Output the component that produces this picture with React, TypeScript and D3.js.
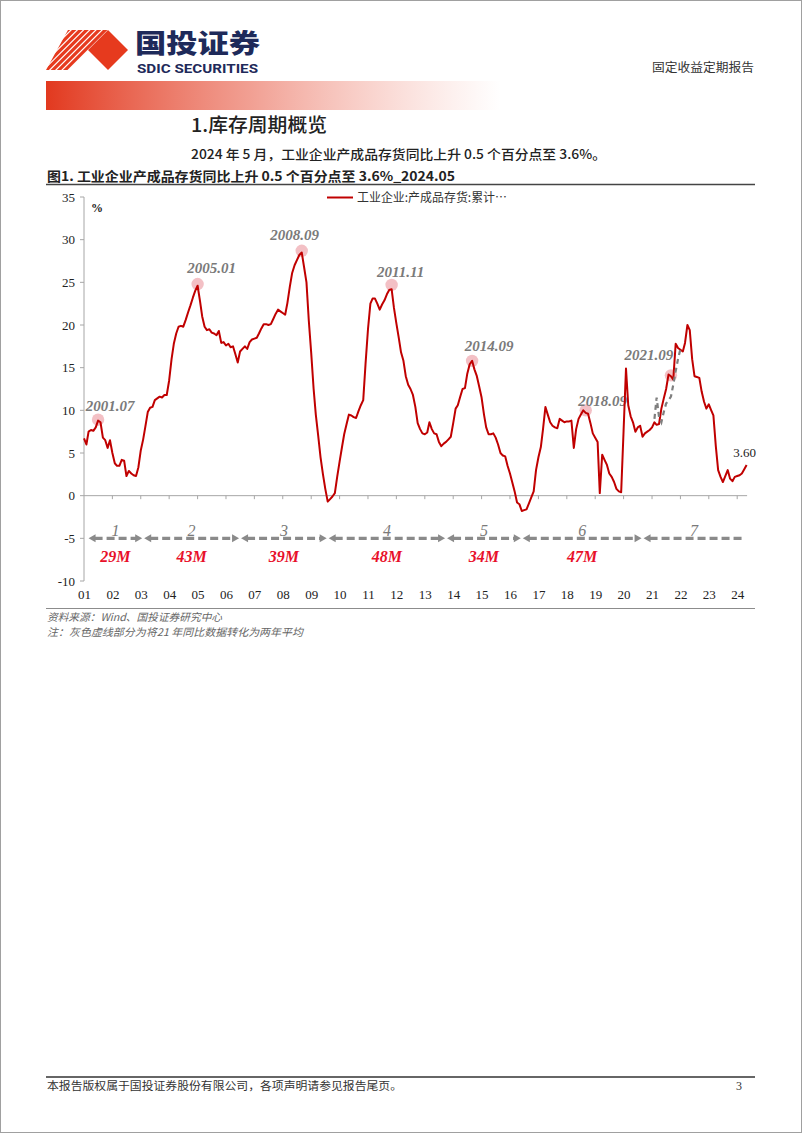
import React from "react";
import * as d3 from "d3";

// ---------------- DATA ----------------
const seriesStart = "2001.01";
// 工业企业:产成品存货:累计同比 (%), monthly from 2001.01 to 2024.05
const inventoryYoY: number[] = [
  // 2001
  6.7, 6.0, 7.5, 7.7, 7.6, 8.0, 8.8, 8.6, 6.8, 6.5, 5.6, 6.5,
  // 2002
  5.0, 3.8, 3.5, 3.5, 4.2, 4.1, 2.3, 2.9, 2.6, 2.4, 2.3, 3.3,
  // 2003
  5.3, 6.6, 8.1, 9.8, 10.3, 10.4, 11.2, 11.4, 11.6, 11.5, 11.8, 11.8,
  // 2004
  13.5, 16.0, 17.8, 19.0, 19.8, 19.9, 19.8, 20.6, 21.5, 22.3, 23.2, 24.0,
  // 2005
  24.6, 22.8, 21.0, 19.8, 19.4, 19.5, 19.1, 19.0, 18.8, 19.3, 17.9, 18.0,
  // 2006
  17.6, 17.8, 17.4, 17.5, 16.6, 15.6, 16.9, 17.2, 17.5, 17.2, 18.0, 18.3,
  // 2007
  18.4, 18.5, 19.0, 19.6, 20.1, 20.1, 20.0, 20.1, 20.7, 21.3, 21.8, 21.6,
  // 2008
  21.4, 21.2, 22.6, 24.5, 26.1, 27.0, 27.6, 28.2, 28.5, 26.8, 25.0, 20.5,
  // 2009
  16.7, 12.5, 9.5, 7.0, 4.5, 2.5, 0.8, -0.7, -0.4, -0.1, 0.3, 2.2,
  // 2010
  4.0, 5.7, 7.2, 8.4, 9.5, 9.4, 9.2, 9.1, 9.9, 10.6, 11.2, 15.5,
  // 2011
  19.5, 22.5, 23.1, 23.1, 22.5, 21.8, 22.4, 22.9, 23.6, 24.1, 24.2, 22.0,
  // 2012
  20.2, 18.5, 16.8, 15.8, 14.0, 13.0, 12.5, 11.8, 10.4, 8.5, 7.8, 7.3,
  // 2013
  7.2, 7.4, 8.6, 7.8, 7.3, 7.2, 6.3, 5.8, 6.1, 6.3, 6.6, 6.9,
  // 2014
  8.5, 10.2, 10.6, 11.6, 12.5, 12.6, 14.3, 15.4, 15.8, 14.8, 14.0, 12.8,
  // 2015
  11.5, 9.5, 8.0, 7.2, 7.2, 7.3, 6.8, 6.0, 5.0, 4.7, 4.6, 3.5,
  // 2016
  2.6, 1.5, 0.5, -0.8, -1.0, -1.8, -1.7, -1.6, -0.9, -0.2, 0.5, 3.0,
  // 2017
  4.5, 5.7, 7.8, 10.4, 9.5, 8.6, 8.2, 8.0, 7.9, 9.0, 8.8, 8.6,
  // 2018
  8.7, 8.7, 8.8, 5.6, 7.8, 9.0, 9.5, 10.0, 9.7, 9.6, 8.5, 7.3,
  // 2019
  6.8, 6.3, 0.3, 4.8, 4.2, 3.6, 2.6, 2.2, 1.6, 0.8, 0.5, 0.4,
  // 2020
  7.6, 14.9, 10.6, 9.3, 8.6, 7.5, 8.0, 8.2, 6.9, 7.3, 7.5, 7.7,
  // 2021
  8.0, 8.6, 8.3, 8.4, 10.2, 11.4, 12.5, 14.2, 14.0, 13.6, 17.8, 17.3,
  // 2022
  17.1, 16.9, 17.9, 20.0, 19.4, 16.0, 14.0, 13.9, 13.8, 12.2, 11.0, 10.2,
  // 2023
  10.7, 10.0, 9.4, 5.8, 3.0, 2.2, 1.6, 2.3, 3.0, 2.0, 1.7, 2.2,
  // 2024
  2.3, 2.4, 2.6, 3.1, 3.6,
];

// grey dashed: 2021 YoY converted to two-year average
const twoYearAvgStart = "2021.02";
const twoYearAvg: number[] = [9.0, 11.5, 9.2, 8.6, 9.8, 10.8, 11.2, 11.6, 13.0, 14.6, 16.0, 17.2];

// peak annotations
const peakDates = ["2001.07", "2005.01", "2008.09", "2011.11", "2014.09", "2018.09", "2021.09"];
const peakValues = [8.9, 24.8, 28.7, 24.7, 15.8, 10.0, 14.1];

// inventory cycles drawn at -5
const cycleBounds = ["2001.03", "2003.02", "2006.07", "2009.08", "2013.10", "2016.06", "2020.09", "2024.04"];
const cycleNames = ["1", "2", "3", "4", "5", "6", "7"];
const cycleLengths = ["29M", "43M", "39M", "48M", "34M", "47M", ""];
const cycleLevel = -5;

const yTicks = [-10, -5, 0, 5, 10, 15, 20, 25, 30, 35];
const xTickLabels = ["01", "02", "03", "04", "05", "06", "07", "08", "09", "10", "11", "12",
  "13", "14", "15", "16", "17", "18", "19", "20", "21", "22", "23", "24"];
const latestLabel = "3.60";
const seriesName = "工业企业:产成品存货:累计…";
const unitLabel = "%";

// ---------------- STYLE ----------------
const SERIF = "'Liberation Serif','Times New Roman',serif";
const CJK = "'Noto Sans CJK SC','Noto Sans',sans-serif";
const RED_LINE = "#c00000";
const GREY = "#8a8a8a";
const LABEL_GREY = "#7a7a7a";
// label offsets relative to each peak circle (dx, baseline dy)
const peakLabelOffsets: [number, number][] = [
  [12, -9], [14, -11], [-7, -11], [9, -8], [17, -10], [17, -4], [-22, -15],
];

const ym = (s: string) => {
  const [yy, mm] = s.split(".").map(Number);
  return new Date(Date.UTC(yy, mm - 1, 1));
};
const addMonths = (d: Date, n: number) => new Date(Date.UTC(d.getUTCFullYear(), d.getUTCMonth() + n, 1));

export default function App() {
  const start = ym(seriesStart);
  const end = addMonths(start, inventoryYoY.length - 1);
  const x = d3.scaleUtc().domain([start, end]).range([84, 746.6]);
  const y = d3.scaleLinear().domain([-10, 35]).range([581, 197]);

  const mainPath = d3.line<number>()
    .x((_, i) => x(addMonths(start, i)))
    .y((v) => y(v))(inventoryYoY) as string;

  const avgStart = ym(twoYearAvgStart);
  const avgPath = d3.line<number>()
    .x((_, i) => x(addMonths(avgStart, i)))
    .y((v) => y(v))(twoYearAvg) as string;

  const y0 = y(0);
  const yearTicks = xTickLabels.map((lab, i) => ({ lab, xp: x(new Date(Date.UTC(2001 + i, 0, 1))) }));
  const xAxisEnd = x(end) + 0.5;

  const yc = y(cycleLevel);
  const cycles = cycleNames.map((name, k) => {
    const x1 = x(ym(cycleBounds[k])) + (k > 0 ? 1 : 0);
    const last = k === cycleNames.length - 1;
    const x2 = x(ym(cycleBounds[k + 1])) - (last ? 0 : 1);
    return { name, len: cycleLengths[k], x1, x2, last };
  });

  const lastX = x(end);
  const lastY = y(inventoryYoY[inventoryYoY.length - 1]);

  return (
    <svg width={802} height={1133} style={{ position: "absolute", left: 0, top: 0, background: "#fff" }}
      xmlns="http://www.w3.org/2000/svg">
      <defs>
        <linearGradient id="hdrGrad" x1="0" x2="1" y1="0" y2="0">
          <stop offset="0" stopColor="#e2391f" stopOpacity={1} />
          <stop offset="0.45" stopColor="#e8604b" stopOpacity={0.6} />
          <stop offset="1" stopColor="#f08a7a" stopOpacity={0} />
        </linearGradient>
        <clipPath id="stripeClip">
          <polygon points="46,70 68,30 108,30 88,50 108,70" />
        </clipPath>
      </defs>
      <rect x={0.5} y={0.5} width={801} height={1132} fill="#fff" stroke="#a0a0a0" strokeWidth={1} />

      {/* ---------- header ---------- */}
      <g clipPath="url(#stripeClip)">
        {d3.range(7).map((i) => {
          const c = 98 + i * 6.2;
          return <line key={i} x1={c - 80} y1={80} x2={c + 10} y2={-10} stroke="#e63a1e" strokeWidth={3.2} />;
        })}
      </g>
      <polygon points="88,50 108,30 128,50 108,70" fill="#e63a1e" />
      <text x={135} y={53} fontFamily={CJK} fontWeight={900} fontSize={26} fill="#1e2a5a" textLength={125}
        lengthAdjust="spacingAndGlyphs">国投证券</text>
      <text x={137} y={73} fontFamily="Roboto, 'Liberation Sans', sans-serif" fontWeight={700} fontSize={12}
        fill="#1e2a5a" textLength={121} lengthAdjust="spacingAndGlyphs">SDIC SECURITIES</text>
      <text x={754} y={72} textAnchor="end" fontFamily={CJK} fontSize={12} fill="#333" textLength={102}
        lengthAdjust="spacingAndGlyphs">固定收益定期报告</text>
      <rect x={46} y={81} width={455} height={29} fill="url(#hdrGrad)" />

      {/* ---------- titles ---------- */}
      <text x={191} y={132} fontFamily={CJK} fontWeight={500} fontSize={19} fill="#222" textLength={136}
        lengthAdjust="spacingAndGlyphs">1.库存周期概览</text>
      <text x={191} y={159} fontFamily={CJK} fontWeight={500} fontSize={13} fill="#222" textLength={415}
        lengthAdjust="spacingAndGlyphs">2024 年 5 月，工业企业产成品存货同比上升 0.5 个百分点至 3.6%。</text>
      <text x={47} y={181} fontFamily={CJK} fontWeight={600} fontSize={13} fill="#222" textLength={408}
        lengthAdjust="spacingAndGlyphs">图1. 工业企业产成品存货同比上升 0.5 个百分点至 3.6%_2024.05</text>
      <line x1={46} x2={755} y1={184.5} y2={184.5} stroke="#444" strokeWidth={1.5} />

      {/* ---------- chart ---------- */}
      {/* y axis */}
      <line x1={84} x2={84} y1={y(35)} y2={y(-10)} stroke="#a6a6a6" strokeWidth={1} />
      {yTicks.map((t) => (
        <g key={t}>
          <line x1={80} x2={84} y1={y(t)} y2={y(t)} stroke="#a6a6a6" strokeWidth={1} />
          <text x={75} y={y(t)} dy="0.35em" textAnchor="end" fontFamily={SERIF} fontSize={13} fill="#222">{t}</text>
        </g>
      ))}
      <text x={91} y={212} fontFamily={SERIF} fontWeight={700} fontSize={12} fill="#222">{unitLabel}</text>

      {/* x axis at zero */}
      <line x1={84} x2={xAxisEnd} y1={y0} y2={y0} stroke="#a6a6a6" strokeWidth={1} />
      {yearTicks.map((t, i) => (
        <g key={t.lab}>
          {i > 0 && <line x1={t.xp} x2={t.xp} y1={y0} y2={y0 + 3.5} stroke="#a6a6a6" strokeWidth={1} />}
          <text x={t.xp + 0.5} y={599} textAnchor="middle" fontFamily={SERIF} fontSize={13} fill="#222">{t.lab}</text>
        </g>
      ))}

      {/* peak markers & labels */}
      {peakDates.map((d, i) => {
        const cx = x(ym(d));
        const cy = y(peakValues[i]);
        return <circle key={d} cx={cx} cy={cy} r={6.2} fill="#f3c0c5" />;
      })}
      {peakDates.map((d, i) => {
        const cx = x(ym(d));
        const cy = y(peakValues[i]);
        const [dx, dy] = peakLabelOffsets[i];
        return (
          <text key={d} x={cx + dx} y={cy + dy} textAnchor="middle" fontFamily={SERIF} fontStyle="italic"
            fontWeight={700} fontSize={15} fill={LABEL_GREY}>{d}</text>
        );
      })}

      {/* main series */}
      <path d={mainPath} fill="none" stroke={RED_LINE} strokeWidth={2} strokeLinejoin="round" />
      {/* two-year average dashed */}
      <path d={avgPath} fill="none" stroke="#7f7f7f" strokeWidth={2.2} strokeDasharray="5,4" />

      {/* latest value */}
      <text x={lastX - 2} y={lastY - 8} textAnchor="middle" fontFamily={SERIF} fontSize={13} fill="#222">{latestLabel}</text>

      {/* cycles */}
      {cycles.map((c) => (
        <g key={c.name}>
          <line x1={c.x1 + 6} x2={c.last ? c.x2 : c.x2 - 6} y1={yc} y2={yc} stroke={GREY} strokeWidth={3.2}
            strokeDasharray="8,4" />
          <polygon points={`${c.x1},${yc} ${c.x1 + 7},${yc - 4} ${c.x1 + 7},${yc + 4}`} fill={GREY} />
          {!c.last && <polygon points={`${c.x2},${yc} ${c.x2 - 7},${yc - 4} ${c.x2 - 7},${yc + 4}`} fill={GREY} />}
          <text x={(c.x1 + c.x2) / 2} y={yc - 2} textAnchor="middle" fontFamily={SERIF} fontStyle="italic"
            fontSize={16} fill={LABEL_GREY}>{c.name}</text>
          {c.len && (
            <text x={(c.x1 + c.x2) / 2} y={yc + 24} textAnchor="middle" fontFamily={SERIF} fontStyle="italic"
              fontWeight={700} fontSize={16} fill="#e8102a">{c.len}</text>
          )}
        </g>
      ))}

      {/* legend */}
      <line x1={327} x2={353} y1={197.5} y2={197.5} stroke={RED_LINE} strokeWidth={2} />
      <text x={357} y={202} fontFamily={CJK} fontSize={12} fill="#333" textLength={150}
        lengthAdjust="spacingAndGlyphs">{seriesName}</text>

      {/* ---------- notes ---------- */}
      <line x1={46} x2={755} y1={608.5} y2={608.5} stroke="#8c8c8c" strokeWidth={1} />
      <text x={47} y={621} fontFamily={CJK} fontStyle="italic" fontSize={10.5} fill="#666" textLength={175}
        lengthAdjust="spacingAndGlyphs">资料来源：Wind、国投证券研究中心</text>
      <text x={47} y={636} fontFamily={CJK} fontStyle="italic" fontSize={10.5} fill="#666" textLength={256}
        lengthAdjust="spacingAndGlyphs">注：灰色虚线部分为将21 年同比数据转化为两年平均</text>

      {/* ---------- footer ---------- */}
      <line x1={46} x2={755} y1={1077} y2={1077} stroke="#333" strokeWidth={1.5} />
      <text x={47} y={1090} fontFamily={CJK} fontSize={11} fill="#333" textLength={355}
        lengthAdjust="spacingAndGlyphs">本报告版权属于国投证券股份有限公司，各项声明请参见报告尾页。</text>
      <text x={739} y={1090} textAnchor="middle" fontFamily={SERIF} fontSize={12} fill="#333">3</text>
    </svg>
  );
}
